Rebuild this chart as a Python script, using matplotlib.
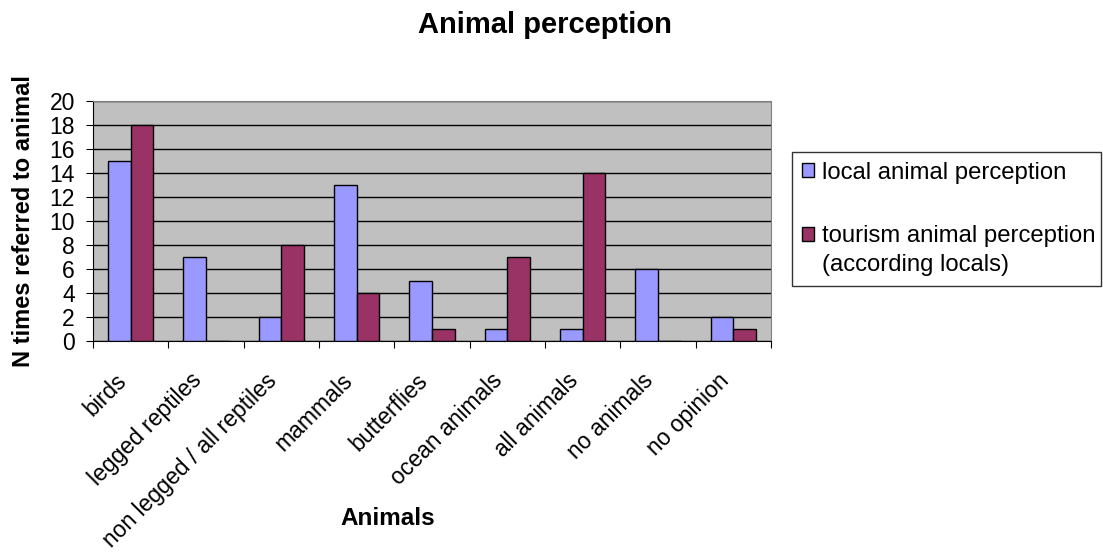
import matplotlib.pyplot as plt
import matplotlib.transforms as mtransforms
import numpy as np

plt.rcParams['font.family'] = ['Liberation Sans', 'DejaVu Sans']

# data
animals = ['birds', 'legged reptiles', 'non legged / all reptiles', 'mammals',
           'butterflies', 'ocean animals', 'all animals', 'no animals', 'no opinion']
local = [15, 7, 2, 13, 5, 1, 1, 6, 2]
tourism = [18, 0, 8, 4, 1, 7, 14, 0, 1]
series_names = ['local animal perception', 'tourism animal perception\n(according locals)']

W, H = 1103, 556
fig = plt.figure(figsize=(W/100, H/100), dpi=100)
ax = fig.add_axes([93/W, 1 - 341/H, (771-93)/W, (341-101)/H])
ax.set_facecolor('#C0C0C0')

x = np.arange(len(animals))
w = 0.3
ax.bar(x - w/2, local, w, color='#9999FF', edgecolor='black', linewidth=1.0,
       label=series_names[0], zorder=3)
ax.bar(x + w/2, tourism, w, color='#993366', edgecolor='black', linewidth=1.0,
       label=series_names[1], zorder=3)

ax.set_xlim(-0.5, len(animals) - 0.5)
ax.set_ylim(0, 20)
ax.set_yticks(range(0, 21, 2))
ax.yaxis.grid(True, color='black', linewidth=1, zorder=1)
ax.set_axisbelow(True)
ax.tick_params(axis='y', labelsize=16.5, direction='out', length=5, pad=8)

# ticks on category boundaries, labels at the centres
ax.set_xticks(np.arange(-0.5, len(animals), 1))
ax.set_xticklabels([])
ax.set_xticks(x, minor=True)
ax.set_xticklabels(animals, minor=True, rotation=45, ha='right', va='center',
                   rotation_mode='anchor', fontsize=16.5)
ax.tick_params(axis='x', which='major', direction='out', length=5)
ax.tick_params(axis='x', which='minor', length=0, pad=0)
off = mtransforms.ScaledTranslation(-8/100, -36/100, fig.dpi_scale_trans)
for lab in ax.get_xticklabels(minor=True):
    lab.set_transform(lab.get_transform() + off)

for s in ['top', 'right']:
    ax.spines[s].set_color('#808080')
for s in ['left', 'bottom']:
    ax.spines[s].set_color('black')

fig.text(545/W, 1 - 33/H, 'Animal perception', fontsize=21, fontweight='bold',
         ha='center', va='baseline')
ax.set_ylabel('N times referred to animal', fontsize=17, fontweight='bold')
ax.yaxis.set_label_coords(-0.086, 0.5)
ax.set_xlabel('Animals', fontsize=17.5, fontweight='bold')
ax.xaxis.set_label_coords(0.434, -0.69)

leg = ax.legend(loc='upper left',
                bbox_to_anchor=(792/W, 1 - 288/H, (1101-792)/W, (288-152)/H),
                bbox_transform=fig.transFigure, mode='expand',
                fontsize=17.2, frameon=True, fancybox=False, edgecolor='black',
                handlelength=0.5, handleheight=0.5, handletextpad=0.35,
                labelspacing=1.75, borderpad=0.4, borderaxespad=0)
leg.get_frame().set_linewidth(1)
for t in leg.get_texts():
    t.set_linespacing(1.4)
# put the second marker next to the first line of its label
h2 = leg.legend_handles[1]
h2.set_y(h2.get_y() + 12)

fig.savefig('out.png', dpi=100)
